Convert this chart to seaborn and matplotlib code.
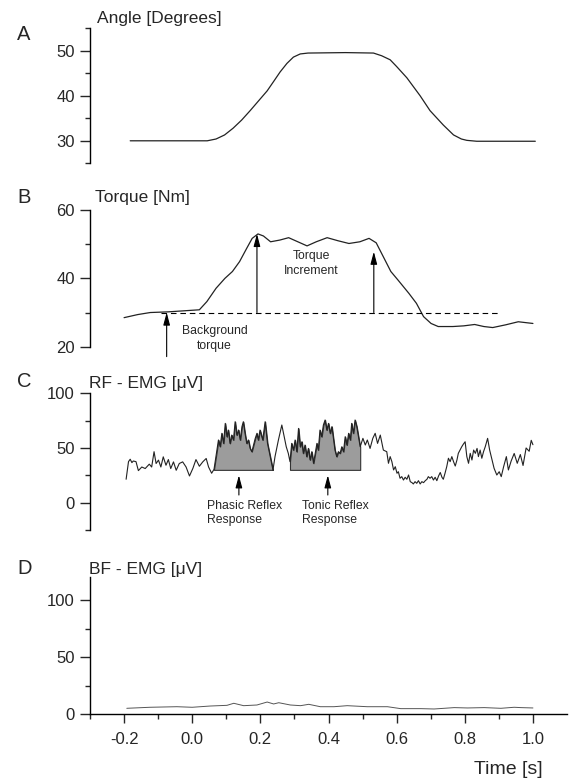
import matplotlib
matplotlib.use('Agg')
import matplotlib.pyplot as plt
import seaborn as sns
import pandas as pd

# ---- values ----
# A: joint angle [deg]
angle_t = [-0.182, 0.044, 0.07, 0.095, 0.12, 0.145, 0.17, 0.195, 0.22, 0.24, 0.258,
           0.278, 0.297, 0.317, 0.34, 0.45, 0.532, 0.556, 0.581, 0.60, 0.63, 0.669,
           0.698, 0.737, 0.767, 0.79, 0.806, 0.835, 1.007]
angle_deg = [30.0, 30.0, 30.4, 31.3, 32.8, 34.6, 36.7, 38.9, 41.1, 43.3, 45.3,
             47.2, 48.6, 49.3, 49.5, 49.6, 49.5, 48.9, 48.0, 46.5, 44.0, 40.0,
             36.7, 33.5, 31.3, 30.4, 30.1, 29.9, 29.9]

# B: torque [Nm]
torque_t = [-0.2, -0.16, -0.123, -0.07, 0.021, 0.043, 0.07, 0.096, 0.118, 0.139, 0.16,
            0.176, 0.193, 0.209, 0.23, 0.257, 0.283, 0.31, 0.337, 0.364, 0.396, 0.428,
            0.46, 0.492, 0.519, 0.54, 0.561, 0.583, 0.604, 0.636, 0.658, 0.679, 0.701,
            0.722, 0.765, 0.797, 0.829, 0.856, 0.882, 0.92, 0.957, 1.0]
torque_nm = [28.5, 29.4, 30.0, 30.2, 30.8, 33.2, 37.1, 40.0, 42.0, 44.9, 48.8,
             51.7, 53.0, 52.4, 50.7, 51.2, 51.9, 50.7, 49.5, 50.7, 51.9, 51.0,
             50.2, 50.7, 51.7, 50.4, 46.3, 42.0, 39.5, 35.6, 32.7, 28.8, 26.8,
             25.9, 25.9, 26.1, 26.5, 25.9, 25.6, 26.4, 27.3, 26.8]
bg_torque = 30.0
bg_span = (-0.091, 0.904)
bg_arrow = (-0.075, 17.1)
incr_arrow_t = [0.19, 0.533]
incr_arrow_top = [53.0, 47.8]

# C: RF EMG [uV]
rf_t = [-0.194, -0.187, -0.182, -0.177, -0.173, -0.165, -0.158, -0.148, -0.138, -0.126,
        -0.119, -0.112, -0.106, -0.099, -0.092, -0.085, -0.077, -0.070, -0.063, -0.055,
        -0.047, -0.038, -0.028, -0.018, -0.008, 0.002, 0.011, 0.021, 0.031, 0.041,
        0.048, 0.057, 0.064, 0.072, 0.077, 0.082, 0.087, 0.092, 0.097, 0.102,
        0.106, 0.111, 0.116, 0.121, 0.126, 0.131, 0.136, 0.141, 0.146, 0.150,
        0.155, 0.160, 0.165, 0.170, 0.175, 0.180, 0.185, 0.190, 0.194, 0.199,
        0.207, 0.214, 0.221, 0.229, 0.237, 0.243, 0.253, 0.263, 0.270, 0.276,
        0.282, 0.287, 0.292, 0.297, 0.302, 0.307, 0.312, 0.317, 0.322, 0.326,
        0.331, 0.336, 0.341, 0.346, 0.351, 0.356, 0.361, 0.366, 0.370, 0.375,
        0.380, 0.385, 0.390, 0.395, 0.400, 0.405, 0.410, 0.415, 0.419, 0.424,
        0.429, 0.434, 0.439, 0.444, 0.449, 0.454, 0.459, 0.464, 0.468, 0.473,
        0.478, 0.483, 0.488, 0.493, 0.501, 0.508, 0.514, 0.522, 0.530, 0.537,
        0.544, 0.552, 0.561, 0.571, 0.576, 0.581, 0.586, 0.591, 0.596, 0.601,
        0.605, 0.610, 0.615, 0.620, 0.625, 0.630, 0.635, 0.640, 0.645, 0.649,
        0.654, 0.659, 0.664, 0.669, 0.674, 0.679, 0.684, 0.689, 0.693, 0.698,
        0.703, 0.708, 0.713, 0.718, 0.723, 0.728, 0.733, 0.737, 0.742, 0.747,
        0.752, 0.757, 0.762, 0.767, 0.772, 0.777, 0.781, 0.786, 0.791, 0.796,
        0.801, 0.806, 0.811, 0.816, 0.821, 0.826, 0.831, 0.836, 0.840, 0.845,
        0.850, 0.855, 0.860, 0.867, 0.873, 0.880, 0.886, 0.894, 0.901, 0.907,
        0.914, 0.922, 0.928, 0.936, 0.945, 0.954, 0.963, 0.971, 0.980, 0.989,
        0.995, 1.000]
rf_uv = [21.4, 37.5, 39.7, 36.6, 38.1, 37.5, 29.3, 32.6, 31.2, 35.2,
         32.6, 46.6, 35.8, 38.9, 32.6, 41.9, 34.2, 39.4, 31.2, 37.3,
         29.6, 35.8, 37.3, 32.6, 24.4, 31.4, 39.4, 33.3, 37.3, 40.4,
         32.6, 26.9, 30.5, 46.6, 57.3, 51.3, 63.4, 54.2, 72.5, 60.3,
         66.4, 54.2, 61.8, 57.3, 74.0, 61.8, 66.4, 57.3, 69.5, 74.0,
         63.4, 54.2, 57.3, 49.6, 46.6, 52.7, 58.8, 63.4, 57.3, 66.4,
         57.3, 74.0, 54.2, 42.1, 29.9, 42.1, 57.3, 71.0, 60.3, 51.1,
         45.1, 37.5, 54.2, 48.1, 57.3, 46.6, 67.9, 51.1, 55.7, 45.1,
         52.7, 42.1, 49.6, 39.1, 46.6, 36.0, 45.1, 54.2, 48.1, 66.4,
         60.3, 71.0, 75.6, 66.4, 72.5, 63.4, 69.5, 57.3, 48.1, 42.1,
         46.6, 45.1, 51.1, 46.6, 60.3, 52.7, 63.4, 57.3, 72.5, 63.4,
         75.6, 69.5, 60.3, 51.1, 58.8, 52.7, 57.3, 49.6, 58.8, 63.4,
         54.2, 61.8, 48.1, 46.6, 36.0, 42.1, 37.5, 29.9, 32.9, 26.9,
         28.3, 22.3, 23.8, 20.7, 23.2, 21.4, 25.3, 19.2, 18.3, 17.1,
         19.2, 17.7, 20.1, 17.1, 19.2, 18.3, 20.1, 21.4, 23.8, 22.3,
         23.8, 20.7, 23.2, 20.1, 24.4, 27.6, 23.2, 21.4, 26.9, 32.9,
         40.6, 37.5, 42.1, 37.5, 33.5, 39.0, 45.1, 48.1, 51.1, 53.6,
         55.7, 42.1, 36.0, 45.1, 39.0, 48.1, 45.1, 49.6, 42.1, 48.1,
         40.6, 46.6, 51.1, 58.8, 48.1, 39.0, 31.4, 25.3, 28.3, 23.8,
         32.9, 42.1, 29.9, 38.0, 45.0, 36.0, 44.0, 34.0, 50.0, 47.0,
         57.0, 53.0]
reflex_base = 30.0
phasic_win = (0.064, 0.237)
tonic_win = (0.287, 0.493)
resp_arrow_t = [0.137, 0.398]
resp_arrow_y = (7.0, 25.0)

# D: BF EMG [uV]
bf_t = [-0.192, -0.124, -0.045, 0.0, 0.053, 0.102, 0.122, 0.151, 0.19, 0.22,
        0.239, 0.254, 0.288, 0.318, 0.342, 0.376, 0.416, 0.455, 0.514, 0.573,
        0.612, 0.671, 0.71, 0.769, 0.808, 0.857, 0.906, 0.945, 0.965, 1.0]
bf_uv = [5.0, 5.9, 6.4, 5.9, 7.0, 7.6, 9.4, 7.3, 7.9, 10.5,
         8.8, 9.9, 7.9, 7.3, 8.5, 6.4, 6.4, 7.3, 6.4, 6.4,
         4.7, 4.7, 4.4, 5.6, 5.3, 5.6, 5.0, 5.9, 5.6, 5.3]

x_major = [-0.2, 0.0, 0.2, 0.4, 0.6, 0.8, 1.0]
x_labels = ['-0.2', '0.0', '0.2', '0.4', '0.6', '0.8', '1.0']
x_minor = [-0.3, -0.1, 0.1, 0.3, 0.5, 0.7, 0.9]

panels = [
    # label, title, ylim, major, minor, fig-top px, fig-bottom px
    ('A', 'Angle [Degrees]', (25, 55), [30, 40, 50], [25, 35, 45, 55], 28.3, 163.3),
    ('B', 'Torque [Nm]', (20, 60), [20, 40, 60], [30, 50], 210.0, 346.7),
    ('C', 'RF - EMG [\u03bcV]', (-25, 100), [0, 50, 100], [-25, 25, 75], 393.3, 530.0),
    ('D', 'BF - EMG [\u03bcV]', (0, 120), [0, 50, 100], [25, 75], 577.2, 714.0),
]

sns.set_style('ticks')
plt.rcParams['font.family'] = ['Liberation Sans', 'DejaVu Sans']

W, H = 569, 780
fig = plt.figure(figsize=(W / 100, H / 100), dpi=100)
LEFT, RIGHT = 90, 567

axes = []
for lab, title, ylim, major, minor, top, bot in panels:
    ax = fig.add_axes([LEFT / W, 1 - bot / H, (RIGHT - LEFT) / W, (bot - top) / H])
    ax.set_xlim(-0.3, 1.1)
    ax.set_ylim(*ylim)
    ax.set_yticks(major)
    ax.set_yticks(minor, minor=True)
    ax.set_yticklabels([str(v) for v in major])
    ax.tick_params(axis='y', which='major', length=7, width=1, pad=4, labelsize=12, direction='out')
    ax.tick_params(axis='y', which='minor', length=3.8, width=1, direction='out')
    ax.set_xlabel('')
    ax.set_ylabel('')
    ax.patch.set_alpha(0)
    axes.append(ax)

axA, axB, axC, axD = axes

# A
sns.lineplot(x=angle_t, y=angle_deg, ax=axA, color='#222222', lw=0.9)

# B
sns.lineplot(x=torque_t, y=torque_nm, ax=axB, color='#222222', lw=0.9)
axB.plot(bg_span, [bg_torque, bg_torque], color='k', lw=0.8, ls=(0, (5, 3.5)))
arrow_kw = dict(arrowstyle='-|>,head_length=0.75,head_width=0.2', color='k', lw=0.8,
                shrinkA=0, shrinkB=0, mutation_scale=10)
axB.annotate('', xy=(bg_arrow[0], bg_torque), xytext=bg_arrow, arrowprops=arrow_kw,
             annotation_clip=False)
for t, top in zip(incr_arrow_t, incr_arrow_top):
    axB.annotate('', xy=(t, top), xytext=(t, bg_torque), arrowprops=arrow_kw)
axB.text(0.066, 22.5, 'Background\ntorque', ha='center', va='center', fontsize=8.8,
         linespacing=1.3)
axB.text(0.35, 44.4, 'Torque\nIncrement', ha='center', va='center', fontsize=8.8,
         linespacing=1.3)

# C
emg = pd.DataFrame({'t': rf_t, 'uv': rf_uv})
for lo, hi in (phasic_win, tonic_win):
    seg = emg[(emg.t >= lo) & (emg.t <= hi)]
    axC.fill_between(seg.t, reflex_base, seg.uv, facecolor='#9c9c9c', edgecolor='#333333',
                     lw=0.8, zorder=1)
sns.lineplot(data=emg, x='t', y='uv', ax=axC, color='#222222', lw=0.8, zorder=2)
for t in resp_arrow_t:
    axC.annotate('', xy=(t, resp_arrow_y[1]), xytext=(t, resp_arrow_y[0]), arrowprops=arrow_kw)
axC.text(0.042, -9.5, 'Phasic Reflex\nResponse', ha='left', va='center', fontsize=8.8,
         linespacing=1.3)
axC.text(0.322, -9.5, 'Tonic Reflex\nResponse', ha='left', va='center', fontsize=8.8,
         linespacing=1.3)

# D
sns.lineplot(x=bf_t, y=bf_uv, ax=axD, color='#555555', lw=0.7)

for ax in (axA, axB, axC):
    sns.despine(ax=ax, bottom=True)
    ax.set_xticks([])
    ax.set_xlabel('')
    ax.set_ylabel('')
sns.despine(ax=axD)
axD.set_xticks(x_major)
axD.set_xticklabels(x_labels)
axD.set_xticks(x_minor, minor=True)
axD.tick_params(axis='x', which='major', length=6.7, width=1, pad=6, labelsize=12, direction='out')
axD.tick_params(axis='x', which='minor', length=3.8, width=1, direction='out')
axD.set_xlabel('')
axD.set_ylabel('')
for ax in axes:
    for s in ax.spines.values():
        s.set_linewidth(1.0)
        s.set_color('k')

# panel letters, titles
def ftext(x, y, s, **kw):
    fig.text(x / W, 1 - y / H, s, va='baseline', **kw)

for lab, ly, title, tx, ty in [('A', 40.0, 'Angle [Degrees]', 96.7, 22.7),
                                ('B', 203.3, 'Torque [Nm]', 95.0, 202.0),
                                ('C', 386.7, 'RF - EMG [\u03bcV]', 89.0, 388.0),
                                ('D', 574.0, 'BF - EMG [\u03bcV]', 89.0, 574.0)]:
    ftext(17, ly, lab, fontsize=14.5, ha='left')
    ftext(tx, ty, title, fontsize=12.5, ha='left')
ftext(543, 774, 'Time [s]', fontsize=14, ha='right')

fig.savefig('out.png', dpi=100, facecolor='white')
